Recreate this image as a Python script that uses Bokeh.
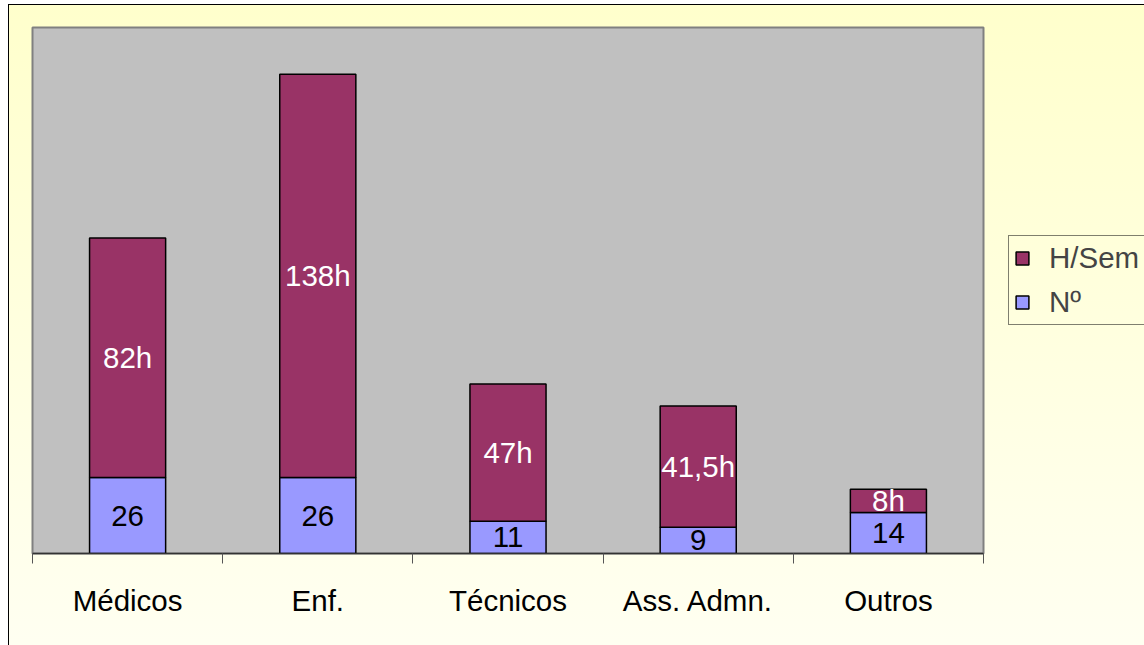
from bokeh.plotting import figure
from bokeh.models import ColumnDataSource, FixedTicker, Legend, LegendItem, Range1d
from bokeh.core.properties import value
from bokeh.embed import file_html
from bokeh.resources import INLINE

categories = ["Médicos", "Enf.", "Técnicos", "Ass. Admn.", "Outros"]
numero = [26, 26, 11, 9, 14]
horas = [82, 138, 47, 41.5, 8]
horas_labels = ["82h", "138h", "47h", "41,5h", "8h"]
numero_labels = ["26", "26", "11", "9", "14"]

FONT = "Liberation Sans"
FS = "29.5px"
C_NUM = "#9999FF"
C_H = "#993366"

xs = [i + 0.5 for i in range(len(categories))]
src = ColumnDataSource(dict(
    x=xs,
    numero=numero,
    horas=horas,
    hl=horas_labels,
    nl=numero_labels,
    yn=[n / 2 for n in numero],
    yh=[n + h / 2 for n, h in zip(numero, horas)],
))

p = figure(frame_width=951, frame_height=526, x_range=Range1d(0, len(categories)),
           y_range=Range1d(0, 180), output_backend="svg", toolbar_location=None,
           min_border_left=23, min_border_top=22, min_border_right=0,
           min_border_bottom=105)

p.styles = {"background": "linear-gradient(#FFFFCC, #FFFFF2)",
            "border": "1px solid #000000",
            "margin-left": "8px", "margin-top": "4px"}
p.border_fill_alpha = 0
p.background_fill_color = "#C0C0C0"
p.outline_line_color = "#808080"
p.outline_line_width = 2
p.grid.visible = False
p.yaxis.visible = False

renderers = p.vbar_stack(["numero", "horas"], x="x", width=0.4,
                         color=[C_NUM, C_H], line_color="black", line_width=1.5,
                         source=src)
r_n, r_h = renderers

p.text(x="x", y="yn", text="nl", source=src, text_align="center",
       text_baseline="middle", text_color="black", text_font=value(FONT),
       text_font_size=FS)
p.text(x="x", y="yh", text="hl", source=src, text_align="center",
       text_baseline="middle", text_color="white", text_font=value(FONT),
       text_font_size=FS)

ax = p.xaxis[0]
ax.ticker = FixedTicker(ticks=xs, minor_ticks=list(range(len(categories) + 1)))
ax.major_label_overrides = {x: c for x, c in zip(xs, categories)}
ax.major_tick_out = 0
ax.major_tick_in = 0
ax.minor_tick_out = 10
ax.minor_tick_in = 0
ax.minor_tick_line_color = "#555555"
ax.axis_line_color = "#333333"
ax.axis_line_width = 1.5
ax.major_label_text_font = FONT
ax.major_label_text_font_size = FS
ax.major_label_text_color = "black"
ax.major_label_standoff = 20

legend = Legend(items=[LegendItem(label="H/Sem", renderers=[r_h]),
                       LegendItem(label="Nº", renderers=[r_n])],
                location=(25, 228))
legend.label_text_font = FONT
legend.label_text_font_size = FS
legend.glyph_width = 16
legend.glyph_height = 16
legend.label_standoff = 19
legend.padding = 5
legend.spacing = 10
legend.margin = 0
legend.border_line_color = "black"
legend.border_line_width = 1
legend.background_fill_alpha = 0
p.add_layout(legend, "right")

html = file_html(p, INLINE)
html = html.replace("</head>", "<style>html, body { overflow: hidden; }</style></head>", 1)
open("out.html", "w").write(html)
